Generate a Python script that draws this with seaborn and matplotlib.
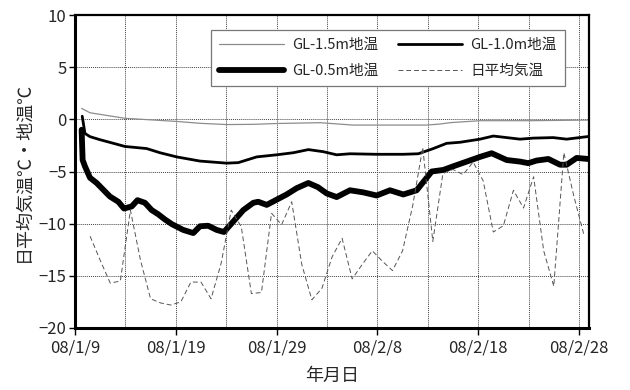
import numpy as np
import pandas as pd
import matplotlib
matplotlib.use("Agg")
import matplotlib.pyplot as plt
import seaborn as sns

# ---------------- data (day offsets from 2008/1/9) ----------------
air_days = [1.5, 2.5, 3.5, 4.5, 5.5, 6.5, 7.5, 8.5, 9.5, 10.5, 11.5, 12.5, 13.5, 14.5,
            15.5, 16.5, 17.5, 18.5, 19.5, 20.5, 21.5, 22.5, 23.5, 24.5, 25.5, 26.5,
            27.5, 28.5, 29.5, 30.5, 31.5, 32.5, 33.5, 34.5, 35.5, 36.5, 37.5, 38.5,
            39.5, 40.5, 41.5, 42.5, 43.5, 44.5, 45.5, 46.5, 47.5, 48.5, 49.5, 50.5]
air_temp = [-11.2, -13.5, -15.7, -15.5, -8.7, -13.5, -17.2, -17.6, -17.8, -17.5,
            -15.6, -15.6, -17.2, -13.8, -8.7, -10.3, -16.7, -16.6, -9.0, -10.1,
            -7.9, -13.9, -17.3, -16.2, -13.2, -11.4, -15.3, -13.9, -12.6, -13.6,
            -14.5, -12.6, -8.3, -2.7, -11.7, -5.2, -4.8, -5.3, -4.1, -5.9,
            -10.8, -10.2, -6.8, -8.5, -5.5, -12.6, -16.0, -3.2, -7.4, -11.1]

gl05_days = [0.66, 0.76, 0.99, 1.49, 2.15, 2.81, 3.47, 4.30, 4.86, 5.63, 6.20, 6.94,
             7.61, 8.26, 8.93, 9.62, 10.74, 11.74, 12.40, 13.22, 14.06, 14.78, 15.70,
             16.70, 17.69, 18.18, 19.02, 20.01, 21.00, 21.99, 23.15, 24.10, 24.97,
             25.96, 27.28, 28.60, 29.93, 31.25, 32.57, 33.90, 35.39, 36.54, 37.53,
             38.86, 40.18, 41.34, 42.83, 44.15, 44.97, 45.80, 46.96, 48.12, 48.78,
             49.77, 50.92]
gl05_temp = [-1.0, -3.9, -4.5, -5.6, -6.1, -6.75, -7.4, -7.9, -8.55, -8.35, -7.75, -8.0,
             -8.7, -9.1, -9.6, -10.05, -10.6, -10.9, -10.25, -10.2, -10.6, -10.8, -9.8,
             -8.7, -8.0, -7.9, -8.2, -7.7, -7.2, -6.6, -6.1, -6.5, -7.1,
             -7.45, -6.8, -7.0, -7.3, -6.8, -7.2, -6.8, -5.0, -4.85, -4.5,
             -4.05, -3.6, -3.25, -3.9, -4.05, -4.2, -3.95, -3.8, -4.35, -4.35,
             -3.7, -3.8]

gl10_days = [0.72, 0.99, 1.49, 2.48, 4.96, 7.11, 8.43, 10.09, 12.40, 15.05, 16.20,
             18.03, 20.01, 21.66, 23.15, 24.63, 25.96, 27.28, 29.93, 32.57, 34.06,
             35.55, 36.87, 38.19, 40.18, 41.50, 42.83, 44.15, 45.47, 47.45, 48.78, 50.89]
gl10_temp = [0.3, -1.35, -1.66, -1.95, -2.6, -2.8, -3.2, -3.6, -4.0, -4.2, -4.15,
             -3.6, -3.4, -3.2, -2.9, -3.1, -3.4, -3.3, -3.35, -3.35, -3.3,
             -2.8, -2.3, -2.2, -1.9, -1.6, -1.75, -1.9, -1.8, -1.75, -1.9, -1.65]

gl15_days = [0.66, 1.49, 4.96, 10.09, 12.40, 15.05, 17.66, 20.01, 24.31, 27.58,
             34.90, 36.21, 37.20, 40.18, 45.14, 50.89]
gl15_temp = [1.05, 0.63, 0.1, -0.2, -0.38, -0.5, -0.48, -0.4, -0.32, -0.55,
             -0.55, -0.45, -0.32, -0.13, -0.13, -0.07]

x_tick_pos = [0, 10, 20, 30, 40, 50]
x_tick_labels = ["08/1/9", "08/1/19", "08/1/29", "08/2/8", "08/2/18", "08/2/28"]
series_names = ["GL-1.5m地温", "GL-1.0m地温", "GL-0.5m地温", "日平均気温"]

# ---------------- style ----------------
sns.set_style("white")
plt.rcParams["font.family"] = ["Noto Sans CJK JP", "DejaVu Sans"]
plt.rcParams["axes.unicode_minus"] = True

fig, ax = plt.subplots(figsize=(6.3, 3.9), dpi=100)
fig.subplots_adjust(left=0.119, right=0.935, top=0.9615, bottom=0.159)

df15 = pd.DataFrame({"day": gl15_days, "temp": gl15_temp})
df10 = pd.DataFrame({"day": gl10_days, "temp": gl10_temp})
df05 = pd.DataFrame({"day": gl05_days, "temp": gl05_temp})
dfair = pd.DataFrame({"day": air_days, "temp": air_temp})

sns.lineplot(data=df15, x="day", y="temp", ax=ax, color="#8c8c8c", lw=0.9,
             label=series_names[0])
sns.lineplot(data=df10, x="day", y="temp", ax=ax, color="black", lw=2.0,
             label=series_names[1])
sns.lineplot(data=df05, x="day", y="temp", ax=ax, color="black", lw=4.2,
             label=series_names[2], solid_joinstyle="round")
sns.lineplot(data=dfair, x="day", y="temp", ax=ax, color="#555555", lw=0.7,
             ls=(0, (5, 3)), label=series_names[3])

ax.set_xlim(0, 51)
ax.set_ylim(-20, 10)
ax.set_xticks(x_tick_pos)
ax.set_xticklabels(x_tick_labels, fontsize=12)
ax.set_xticks(np.arange(5, 51, 10), minor=True)
ax.set_yticks(np.arange(-20, 11, 5))
ax.set_yticklabels([f"{v}".replace("-", "\u2212") for v in range(-20, 11, 5)],
                   fontsize=12)
ax.tick_params(axis="x", which="major", direction="out", length=5, width=1,
               color="black", pad=3, bottom=True)
ax.tick_params(axis="x", which="minor", length=0)
ax.tick_params(axis="y", direction="out", length=4, width=1, color="black",
               left=True, pad=2)

ax.grid(True, which="both", axis="x", color="#444444", ls=(0, (1, 1)), lw=0.7)
ax.grid(True, which="major", axis="y", color="#444444", ls=(0, (1, 1)), lw=0.7)

for side in ["left", "right", "top", "bottom"]:
    ax.spines[side].set_visible(True)
    ax.spines[side].set_color("black")
    ax.spines[side].set_linewidth(1.6)
ax.spines["left"].set_linewidth(2.2)
ax.spines["bottom"].set_linewidth(2.2)

ax.set_xlabel("年月日", fontsize=13, labelpad=8)
ax.set_ylabel("日平均気温℃・地温℃", fontsize=13, labelpad=4)

# legend in row-major order like the reference
handles, labels = ax.get_legend_handles_labels()
order = [0, 2, 1, 3]
leg = ax.legend([handles[i] for i in order], [labels[i] for i in order],
                ncol=2, loc="upper right", bbox_to_anchor=(0.953, 0.953),
                fontsize=10.5, frameon=True, fancybox=False, handlelength=4.4,
                columnspacing=1.3, handletextpad=0.6, borderpad=0.55,
                labelspacing=0.85, borderaxespad=0)
leg.get_frame().set_edgecolor("#777777")
leg.get_frame().set_linewidth(0.9)
leg.get_frame().set_alpha(1)

fig.savefig("out.png", dpi=100)
